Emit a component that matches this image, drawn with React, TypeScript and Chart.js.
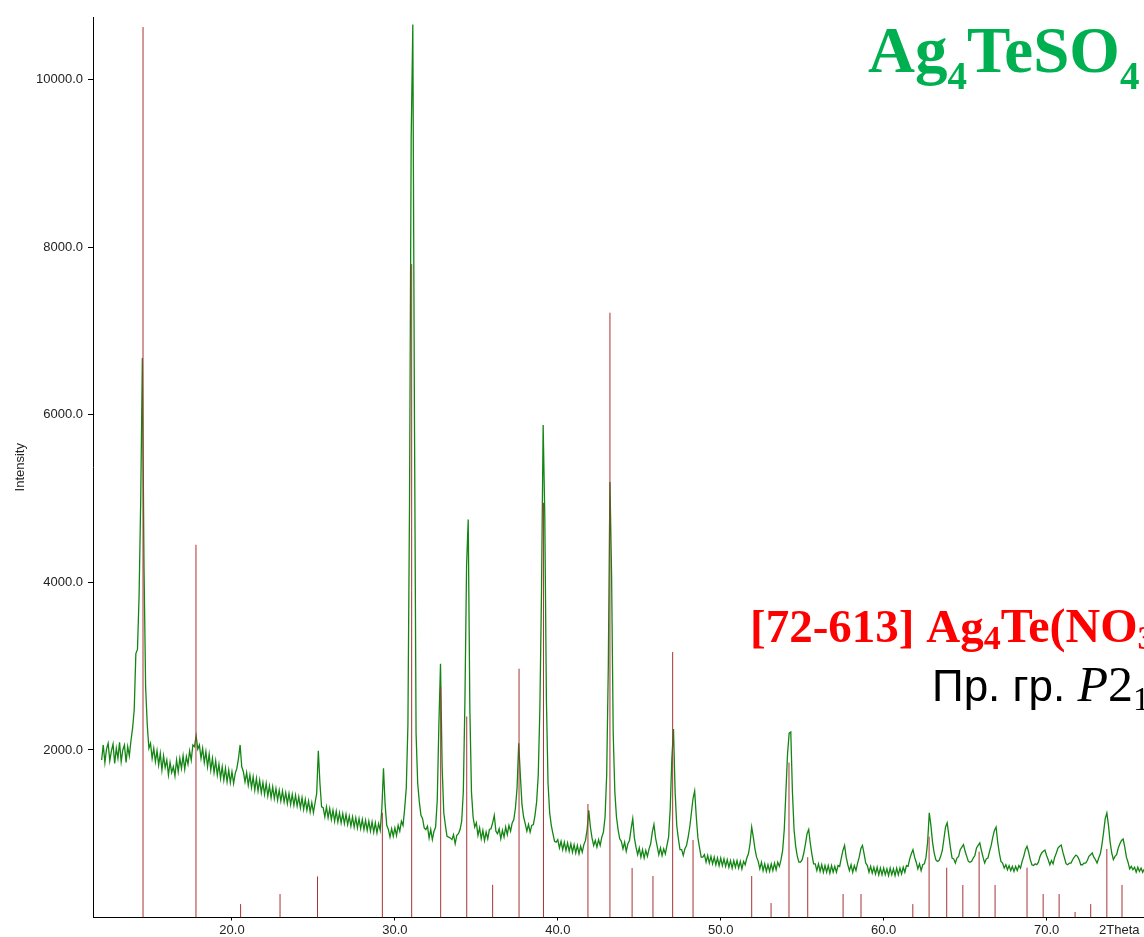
import { useEffect, useRef } from 'react';
import { Chart, registerables } from 'chart.js';

Chart.register(...registerables);

// ---------- data ----------
// Observed pattern, sampled every 0.1 deg 2Theta starting at 12.0
const GRID_START = 12.0;
const GRID_STEP = 0.1;

const counts12to24 = [
  1880, 2060, 1850, 2010, 2080, 1870, 1990, 2070, 1840, 2020,
  1900, 2090, 1860, 2000, 2060, 1850, 2040, 1930, 2110, 2260,
  2480, 3150, 3200, 3850, 5000, 6680, 4200, 2750, 2300, 2020,
  2080, 1900, 2020, 1860, 1990, 1820, 1960, 1760, 1930, 1790,
  1880, 1700, 1850, 1730, 1800, 1690, 1880, 1740, 1900, 1780,
  1930, 1770, 1920, 1830, 1990, 1880, 2060, 2040, 2170, 2010,
  2060, 1900, 2020, 1850, 1980, 1800, 1950, 1760, 1900, 1730,
  1870, 1700, 1830, 1660, 1800, 1640, 1780, 1620, 1760, 1610,
  1740, 1600, 1720, 1780, 1900, 2060, 1800, 1740, 1620, 1730,
  1580, 1700, 1550, 1680, 1520, 1660, 1510, 1640, 1490, 1610,
  1470, 1600, 1450, 1570, 1430, 1560, 1420, 1540, 1400, 1520,
  1390, 1510, 1380, 1490, 1360, 1480, 1350, 1470, 1340, 1460,
  1330, 1440, 1310, 1430, 1290, 1410, 1280, 1390, 1260, 1370,
];

const counts25to37 = [
  1250, 1370, 1480, 1990, 1600, 1320, 1310, 1200, 1320, 1190,
  1300, 1170, 1280, 1150, 1270, 1140, 1250, 1130, 1240, 1120,
  1230, 1110, 1210, 1090, 1200, 1080, 1190, 1070, 1180, 1060,
  1170, 1050, 1160, 1040, 1150, 1030, 1140, 1020, 1130, 1010,
  1120, 1040, 1300, 1780, 1350, 1100, 1050, 960, 1060, 970,
  1070, 980, 1100, 1030, 1150, 1100, 1300, 1550, 2300, 5000,
  9300, 10660, 6000, 2200, 1600, 1380, 1220, 1180, 1070, 1050,
  1090, 950, 1050, 930, 1030, 1080, 1400, 2300, 3030, 1800,
  1250, 1100, 970, 960, 950, 930, 990, 880, 980, 1000,
  1050, 1150, 1500, 2600, 4200, 4750, 2500, 1500, 1200, 1080,
  1130, 980, 1070, 940, 1040, 920, 1020, 940, 1050, 1060,
  1130, 1220, 1030, 1000, 1060, 940, 1040, 960, 1080, 990,
  1100, 1030, 1130, 1170, 1310, 1550, 2080, 1700, 1350, 1200,
];

const counts38to50 = [
  1120, 1030, 1110, 1020, 1100, 1110, 1220, 1380, 1700, 2500,
  3900, 5880, 4800, 2600, 1600, 1250, 1100, 1000, 910, 900,
  930, 830, 910, 810, 900, 800, 890, 790, 880, 780,
  870, 770, 860, 760, 850, 780, 870, 920, 1050, 1280,
  1080, 950, 860, 920, 840, 930, 860, 960, 1020, 1200,
  1700, 3000, 5200, 4100, 2200, 1500, 1200, 1050, 940, 910,
  820, 900, 790, 880, 920, 1060, 1180, 950, 840, 750,
  830, 720, 810, 710, 800, 730, 820, 880, 1020, 1110,
  950, 850, 750, 830, 740, 820, 760, 860, 960, 1300,
  1900, 2250, 1500, 1100, 940, 810, 810, 740, 820, 860,
  960, 1080, 1250, 1420, 1510, 1200, 950, 830, 720, 720,
  750, 660, 740, 650, 730, 640, 720, 630, 710, 620,
  710, 620, 700, 610, 690, 600, 680, 590, 680, 600,
];

const counts51to63 = [
  680, 590, 670, 580, 670, 630, 710, 760, 880, 1080,
  960, 820, 720, 670, 580, 660, 560, 640, 550, 630,
  550, 640, 560, 650, 570, 660, 610, 690, 800, 1050,
  1500, 1950, 2200, 2215, 1500, 1050, 850, 730, 660, 660,
  690, 770, 880, 1000, 1050, 880, 750, 640, 640, 560,
  640, 550, 630, 540, 620, 540, 620, 530, 620, 540,
  610, 540, 620, 610, 710, 800, 860, 720, 630, 560,
  630, 540, 620, 560, 650, 720, 820, 860, 760, 650,
  620, 540, 610, 530, 600, 520, 600, 510, 590, 510,
  590, 510, 580, 500, 590, 510, 580, 500, 590, 510,
  590, 520, 600, 540, 620, 610, 700, 760, 810, 720,
  660, 580, 640, 560, 630, 640, 720, 900, 1250, 1100,
  900, 770, 690, 670, 680, 730, 800, 940, 1080, 1130,
];

const counts64to76 = [
  980, 830, 710, 700, 650, 710, 730, 810, 840, 870,
  790, 730, 670, 660, 670, 710, 740, 830, 860, 890,
  800, 720, 650, 700, 710, 790, 860, 960, 1040, 1080,
  900, 770, 670, 650, 590, 630, 570, 620, 560, 610,
  550, 610, 560, 620, 590, 670, 730, 810, 850, 780,
  690, 630, 620, 640, 630, 660, 730, 770, 790, 805,
  740, 690, 630, 680, 640, 720, 770, 830, 850, 865,
  780, 710, 640, 630, 650, 650, 690, 720, 745, 730,
  690, 630, 630, 650, 650, 680, 730, 750, 770, 720,
  690, 650, 710, 760, 870, 1020, 1180, 1248, 1100, 900,
  770, 690, 730, 750, 830, 880, 920, 937, 840, 720,
  660, 580, 610, 570, 600, 540, 600, 550, 590, 540,
  580,
];

// Reference card [72-613] stick pattern
const refTwoTheta = [
  14.54, 17.79, 20.53, 22.95, 25.25, 29.23, 31.03, 32.81, 34.41, 36.0,
  37.62, 39.12, 41.85, 43.2, 44.56, 45.84, 47.05, 48.3, 51.9, 53.09,
  54.19, 55.34, 57.51, 58.61, 61.79, 62.79, 63.87, 64.86, 65.86, 66.84,
  68.8, 69.79, 70.77, 71.75, 72.71, 73.7, 74.63,
];
const refIntensity = [
  10630, 4450, 160, 280, 490, 1250, 7800, 2750, 2400, 390,
  2970, 4950, 1355, 7220, 590, 495, 3170, 925, 495, 173,
  1850, 720, 280, 280, 160, 965, 595, 388, 786, 388,
  595, 280, 280, 66, 160, 818, 388,
];

const xTickValues = [20, 30, 40, 50, 60, 70];
const yTickValues = [2000, 4000, 6000, 8000, 10000];
const X_TITLE = '2Theta';
const Y_TITLE = 'Intensity';

// ---------- layout / style ----------
const W = 1144;
const H = 937;
const X_MIN = 11.47;
const X_MAX = 75.98;
const Y_MIN = 0;
const Y_MAX = 10750;
const PLOT_LEFT = 93;
const PLOT_TOP = 17;
const PLOT_BOTTOM = 917.5;
const GREEN = '#138513';
const STICK = '#a83434';
const AXIS_FONT = "'Liberation Sans', Arial, sans-serif";
const SERIF = "'Liberation Serif', 'Times New Roman', serif";

type Run = { text: string; font: string; dy: number };

const titleRuns: Run[] = [
  { text: 'Ag', font: `bold 65px ${SERIF}`, dy: 0 },
  { text: '4', font: `bold 39px ${SERIF}`, dy: 17 },
  { text: 'TeSO', font: `bold 65px ${SERIF}`, dy: 0 },
  { text: '4', font: `bold 39px ${SERIF}`, dy: 17 },
];
const cardRuns: Run[] = [
  { text: '[72-613] Ag', font: `bold 47px ${SERIF}`, dy: 0 },
  { text: '4', font: `bold 34px ${SERIF}`, dy: 7 },
  { text: 'Te(NO', font: `bold 48px ${SERIF}`, dy: 0 },
  { text: '3', font: `bold 34px ${SERIF}`, dy: 7 },
  { text: ')', font: `bold 48px ${SERIF}`, dy: 0 },
  { text: '2', font: `bold 34px ${SERIF}`, dy: 7 },
];
const groupRuns: Run[] = [
  { text: 'Пр. гр. ', font: `44px ${AXIS_FONT}`, dy: 0 },
  { text: 'P', font: `italic 50px ${SERIF}`, dy: 0 },
  { text: '2', font: `50px ${SERIF}`, dy: 0 },
  { text: '1', font: `33px ${SERIF}`, dy: 9 },
  { text: '/c', font: `50px ${SERIF}`, dy: 0 },
];

function drawRuns(ctx: CanvasRenderingContext2D, x: number, y: number, runs: Run[], color: string) {
  let cx = x;
  ctx.fillStyle = color;
  ctx.textAlign = 'left';
  ctx.textBaseline = 'alphabetic';
  for (const r of runs) {
    ctx.font = r.font;
    ctx.fillText(r.text, cx, y + r.dy);
    cx += ctx.measureText(r.text).width;
  }
}

const textPlugin = {
  id: 'slideText',
  afterDraw(chart: any) {
    const ctx: CanvasRenderingContext2D = chart.ctx;
    ctx.save();
    drawRuns(ctx, 868, 72, titleRuns, '#00b050');
    drawRuns(ctx, 750, 642, cardRuns, '#ff0000');
    drawRuns(ctx, 932, 701, groupRuns, '#000000');
    ctx.font = `13px ${AXIS_FONT}`;
    ctx.fillStyle = '#222';
    ctx.textBaseline = 'middle';
    ctx.fillText(X_TITLE, 1099, 930);
    ctx.restore();
  },
};

export default function App() {
  const ref = useRef<HTMLCanvasElement>(null);

  useEffect(() => {
    const observed = [...counts12to24, ...counts25to37, ...counts38to50, ...counts51to63, ...counts64to76];
    const obsPoints = observed.map((y, i) => ({ x: +(GRID_START + i * GRID_STEP).toFixed(2), y }));
    const stickPoints: { x: number; y: number | null }[] = [];
    refTwoTheta.forEach((x, i) => {
      stickPoints.push({ x, y: 0 }, { x, y: refIntensity[i] }, { x, y: null });
    });

    const chart = new Chart(ref.current as HTMLCanvasElement, {
      type: 'line',
      data: {
        datasets: [
          {
            label: 'Ag4Te(NO3)2 [72-613]',
            data: stickPoints as any,
            borderColor: STICK,
            borderWidth: 1,
            pointRadius: 0,
            spanGaps: false,
            tension: 0,
            fill: false,
            order: 0,
          },
          {
            label: 'Ag4TeSO4',
            data: obsPoints as any,
            borderColor: GREEN,
            borderWidth: 1.3,
            pointRadius: 0,
            tension: 0,
            fill: false,
            order: 1,
          },
        ],
      },
      options: {
        animation: false,
        responsive: false,
        maintainAspectRatio: false,
        events: [],
        layout: { padding: { top: PLOT_TOP, right: 0, bottom: 0, left: 0 } },
        plugins: { legend: { display: false }, tooltip: { enabled: false } },
        scales: {
          x: {
            type: 'linear',
            min: X_MIN,
            max: X_MAX,
            afterBuildTicks: (s: any) => {
              s.ticks = xTickValues.map((v) => ({ value: v }));
            },
            afterFit: (s: any) => {
              s.height = H - PLOT_BOTTOM;
            },
            ticks: {
              callback: (v: any) => Number(v).toFixed(1),
              font: { family: AXIS_FONT, size: 13 },
              color: '#222',
              padding: 2,
              maxRotation: 0,
              autoSkip: false,
            },
            grid: { drawOnChartArea: false, drawTicks: true, tickLength: 3, color: '#000' },
            border: { display: true, color: '#000', width: 1 },
          },
          y: {
            type: 'linear',
            min: Y_MIN,
            max: Y_MAX,
            afterBuildTicks: (s: any) => {
              s.ticks = yTickValues.map((v) => ({ value: v }));
            },
            afterFit: (s: any) => {
              s.width = PLOT_LEFT;
            },
            ticks: {
              callback: (v: any) => Number(v).toFixed(1),
              font: { family: AXIS_FONT, size: 13 },
              color: '#222',
              padding: 5,
              autoSkip: false,
            },
            grid: { drawOnChartArea: false, drawTicks: true, tickLength: 5, color: '#000' },
            border: { display: true, color: '#000', width: 1 },
            title: {
              display: true,
              text: Y_TITLE,
              font: { family: AXIS_FONT, size: 13 },
              color: '#222',
              padding: { top: 13, bottom: 0 },
            },
          },
        },
      },
      plugins: [textPlugin],
    });
    return () => chart.destroy();
  }, []);

  return (
    <div style={{ position: 'absolute', left: 0, top: 0, width: W, height: H, overflow: 'hidden', background: '#fff' }}>
      <canvas ref={ref} width={W} height={H} style={{ display: 'block', width: W, height: H }} />
    </div>
  );
}
